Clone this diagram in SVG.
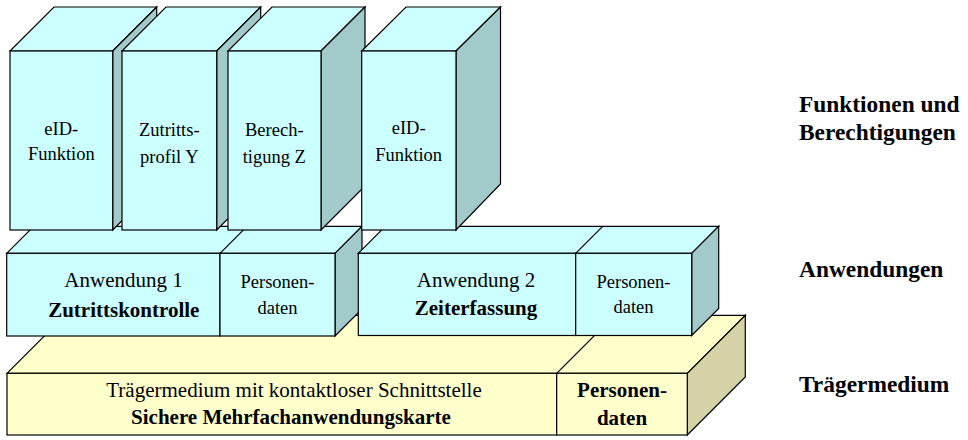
<svg xmlns="http://www.w3.org/2000/svg" width="968" height="440" viewBox="0 0 968 440">
<style>
.f{fill:#CCFFFF;stroke:#000;stroke-width:1.2;stroke-linejoin:miter}
.s{fill:#A3CACA;stroke:#000;stroke-width:1.2}
.yf{fill:#FFFFCC;stroke:#000;stroke-width:1.2}
.ys{fill:#D4D2A6;stroke:#000;stroke-width:1.2}
text{font-family:"Liberation Serif","Times New Roman",serif;fill:#000;text-anchor:middle}
.c{font-size:18.5px}
.m{font-size:21px}
.mb{font-size:21px;font-weight:bold}
.p{font-size:18.5px}
.r{font-size:23.4px;font-weight:bold;text-anchor:start}
</style>
<rect width="968" height="440" fill="#fff"/>
<g id="traegermedium">
<polygon class="yf" points="7,373.3 65,315.3 745.3,315.3 687.3,373.3"/>
<line x1="556.7" y1="373.3" x2="614.7" y2="315.3" stroke="#000" stroke-width="1.2"/>
<polygon class="ys" points="687.3,373.3 745.3,315.3 745.3,377 687.3,435"/>
<rect class="yf" x="7" y="373.3" width="549.7" height="61.7"/>
<rect class="yf" x="556.7" y="373.3" width="130.6" height="61.7"/>
<text class="m" x="294" y="396.7">Trägermedium mit kontaktloser Schnittstelle</text>
<text class="mb" x="291" y="424">Sichere Mehrfachanwendungskarte</text>
<text class="mb" x="622" y="396.7">Personen-</text>
<text class="mb" x="622" y="425">daten</text>
</g>
<g id="anwendung1">
<polygon class="f" points="6.7,253.3 33.7,226.3 362,226.3 335,253.3"/>
<line x1="220" y1="253.3" x2="247" y2="226.3" stroke="#000" stroke-width="1.2"/>
<polygon class="s" points="335,253.3 362,226.3 362,309 335,336"/>
<rect class="f" x="6.7" y="253.3" width="213.3" height="82.7"/>
<rect class="f" x="220" y="253.3" width="115" height="82.7"/>
<text class="m" x="123.5" y="287.3">Anwendung 1</text>
<text class="mb" x="123.8" y="317">Zutrittskontrolle</text>
<text class="p" x="277.5" y="288.3">Personen-</text>
<text class="p" x="277.5" y="314">daten</text>
</g>
<g id="anwendung2">
<polygon class="f" points="358.3,253.3 385.3,226.3 718.7,226.3 691.7,253.3"/>
<line x1="575.7" y1="253.3" x2="602.7" y2="226.3" stroke="#000" stroke-width="1.2"/>
<polygon class="s" points="691.7,253.3 718.7,226.3 718.7,308.5 691.7,335.5"/>
<rect class="f" x="358.3" y="253.3" width="217.4" height="82.2"/>
<rect class="f" x="575.7" y="253.3" width="116" height="82.2"/>
<text class="m" x="476" y="286.7">Anwendung 2</text>
<text class="mb" x="476" y="315">Zeiterfassung</text>
<text class="p" x="633.5" y="288.3">Personen-</text>
<text class="p" x="633.5" y="313.3">daten</text>
</g>
<g id="eid1">
<polygon class="f" points="10,51 54,7 156.7,7 112.7,51"/>
<polygon class="s" points="112.7,51 156.7,7 156.7,186 112.7,230"/>
<rect class="f" x="10" y="51" width="102.7" height="179"/>
<text class="c" x="61.3" y="134.5">eID-</text>
<text class="c" x="61.3" y="160">Funktion</text>
</g>
<g id="zutrittsprofil">
<polygon class="f" points="122,51 166,7 260.7,7 216.7,51"/>
<polygon class="s" points="216.7,51 260.7,7 260.7,186 216.7,230"/>
<rect class="f" x="122" y="51" width="94.7" height="179"/>
<text class="c" x="169.3" y="136">Zutritts-</text>
<text class="c" x="169.3" y="162.5">profil Y</text>
</g>
<g id="berechtigung">
<polygon class="f" points="228,51 272,7 365,7 321,51"/>
<polygon class="s" points="321,51 365,7 365,186 321,230"/>
<rect class="f" x="228" y="51" width="93" height="179"/>
<text class="c" x="274.3" y="136">Berech-</text>
<text class="c" x="274.3" y="162.5">tigung Z</text>
</g>
<g id="eid2">
<polygon class="f" points="361.7,51 406,7 500.5,7 456,51"/>
<polygon class="s" points="456,51 500.5,7 500.5,184 456,230"/>
<rect class="f" x="361.7" y="51" width="94.3" height="179"/>
<text class="c" x="408.7" y="134">eID-</text>
<text class="c" x="408.7" y="161">Funktion</text>
</g>
<g id="connectors"></g>
<g id="labels">
<text class="r" x="799" y="112.3">Funktionen und</text>
<text class="r" x="799" y="140">Berechtigungen</text>
<text class="r" x="799" y="276.7">Anwendungen</text>
<text class="r" x="799" y="391.7">Trägermedium</text>
</g>
</svg>
